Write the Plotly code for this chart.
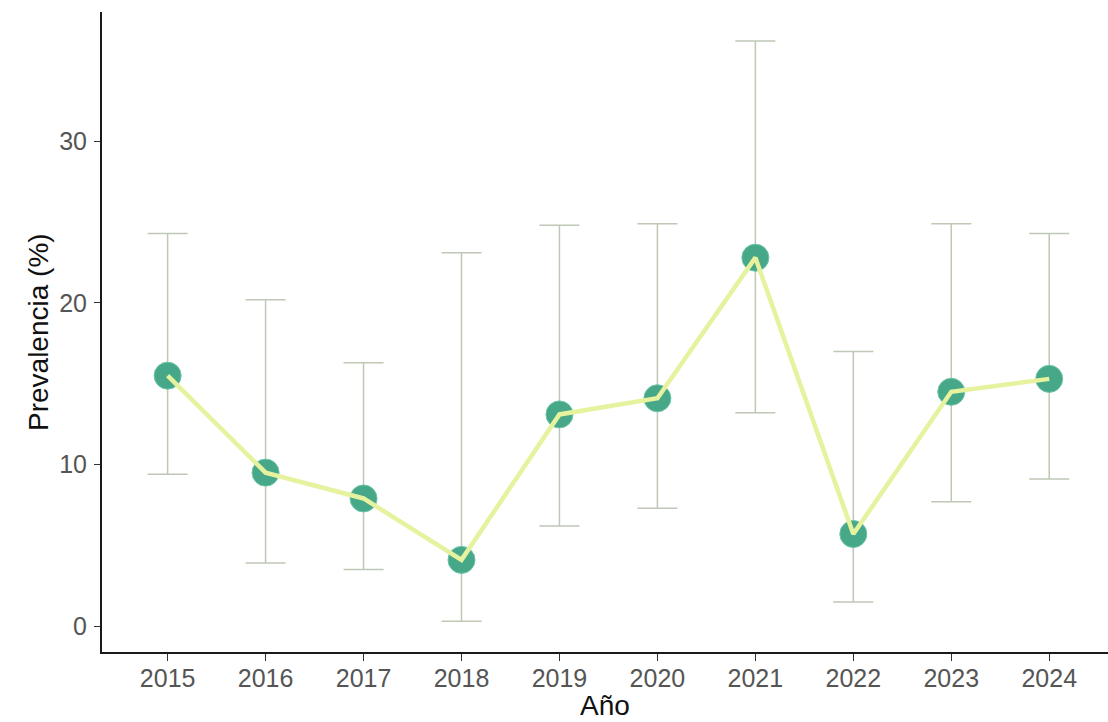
import plotly.graph_objects as go

# Annual prevalence with 95% confidence limits
years = [2015, 2016, 2017, 2018, 2019, 2020, 2021, 2022, 2023, 2024]
prevalence = [15.5, 9.5, 7.9, 4.1, 13.1, 14.1, 22.8, 5.7, 14.5, 15.3]
ci_lower = [9.4, 3.9, 3.5, 0.3, 6.2, 7.3, 13.2, 1.5, 7.7, 9.1]
ci_upper = [24.3, 20.2, 16.3, 23.1, 24.8, 24.9, 36.2, 17.0, 24.9, 24.3]
y_ticks = [0, 10, 20, 30]

err_plus = [u - p for u, p in zip(ci_upper, prevalence)]
err_minus = [p - l for p, l in zip(prevalence, ci_lower)]

FONT = "Liberation Sans, Arial, sans-serif"

fig = go.Figure()

# confidence-interval whiskers
fig.add_trace(go.Scatter(
    x=years, y=prevalence, mode="markers",
    marker=dict(size=1, color="rgba(0,0,0,0)"),
    error_y=dict(type="data", symmetric=False, array=err_plus, arrayminus=err_minus,
                 color="#BFC7B6", thickness=1.5, width=20),
    hoverinfo="skip", showlegend=False,
))

# point estimates
fig.add_trace(go.Scatter(
    x=years, y=prevalence, mode="markers",
    marker=dict(size=27, color="#46A888", line=dict(width=1, color="#6CC5A6")),
    showlegend=False,
))

# connecting line drawn over the points
fig.add_trace(go.Scatter(
    x=years, y=prevalence, mode="lines",
    line=dict(color="#E6F29E", width=4.5),
    showlegend=False,
))

fig.update_layout(
    width=1108, height=722,
    margin=dict(l=102, r=0, t=12, b=70),
    plot_bgcolor="white", paper_bgcolor="white",
    font=dict(family=FONT, color="#4D4D4D"),
    xaxis=dict(
        range=[2014.33, 2024.6], tickmode="array", tickvals=years,
        ticktext=[str(y) for y in years],
        showgrid=False, zeroline=False,
        showline=True, linecolor="#1A1A1A", linewidth=2,
        ticks="outside", ticklen=7, tickwidth=1.2, tickcolor="#333333",
        ticklabelstandoff=-4,
        tickfont=dict(size=25, color="#555555", family=FONT),
    ),
    yaxis=dict(
        range=[-1.6, 38.0], tickmode="array", tickvals=y_ticks,
        showgrid=False, zeroline=False,
        showline=True, linecolor="#1A1A1A", linewidth=2,
        ticks="outside", ticklen=6, tickwidth=1.2, tickcolor="#333333",
        ticklabelstandoff=2,
        tickfont=dict(size=25, color="#555555", family=FONT),
    ),
    annotations=[
        dict(text="Prevalencia (%)", xref="paper", yref="paper", x=0, y=0.5,
             xanchor="center", yanchor="middle", xshift=-64, textangle=-90,
             showarrow=False, font=dict(size=28, color="#111111", family=FONT)),
        dict(text="Año", xref="paper", yref="paper", x=0.5, y=0,
             xanchor="center", yanchor="middle", yshift=-53,
             showarrow=False, font=dict(size=28, color="#111111", family=FONT)),
    ],
)

fig.write_html("out.html")
